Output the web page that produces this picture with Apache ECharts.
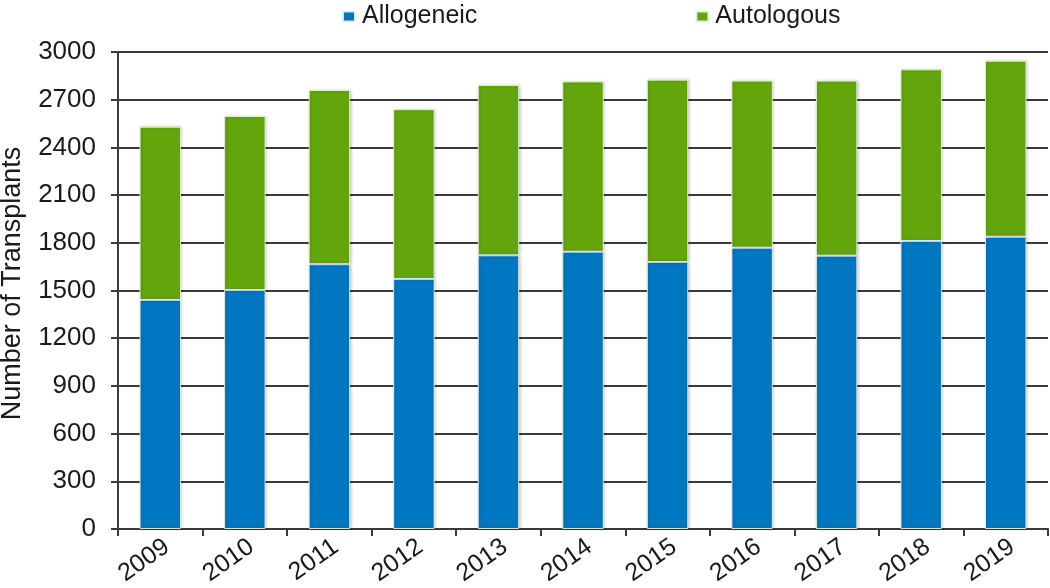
<!DOCTYPE html>
<html>
<head>
<meta charset="utf-8">
<script src="https://cdn.jsdelivr.net/npm/echarts@6/dist/echarts.min.js"></script>
<style>
html,body{margin:0;padding:0;background:#fff;}
#chart{width:1050px;height:588px;}
</style>
</head>
<body>
<div id="chart"></div>
<script>
const years = ['2009','2010','2011','2012','2013','2014','2015','2016','2017','2018','2019'];
const allogeneic = [1440, 1503, 1665, 1572, 1721, 1744, 1679, 1769, 1719, 1811, 1838];
const autologous = [1090, 1094, 1096, 1068, 1071, 1071, 1147, 1051, 1101, 1080, 1107];
const yTicks = [0, 300, 600, 900, 1200, 1500, 1800, 2100, 2400, 2700, 3000];

const font = '"Liberation Sans", Arial, sans-serif';
const chart = echarts.init(document.getElementById('chart'), null, {renderer: 'canvas'});
const barStyle = (c) => ({
  color: c,
  borderColor: 'rgba(235,240,230,0.9)',
  borderWidth: 1,
  shadowBlur: 3,
  shadowColor: 'rgba(0,0,0,0.22)',
  shadowOffsetX: 1,
  shadowOffsetY: 0
});
chart.setOption({
  animation: false,
  textStyle: {fontFamily: font, color: '#1a1a1a'},
  legend: {
    left: 337, top: -1,
    itemWidth: 12, itemHeight: 10, itemGap: 218,
    icon: 'rect',
    textStyle: {fontFamily: font, fontSize: 25, color: '#1a1a1a', padding: [0, 0, 0, 2]},
    data: ['Allogeneic', 'Autologous']
  },
  grid: {left: 118, right: 2, top: 52, bottom: 59, containLabel: false, outerBoundsMode: 'none'},
  xAxis: {
    type: 'category',
    data: years,
    boundaryGap: true,
    axisLine: {show: true, lineStyle: {color: '#3a3a3a', width: 2}},
    axisTick: {show: true, length: 7, lineStyle: {color: '#3a3a3a', width: 2}},
    axisLabel: {rotate: 35, fontSize: 25, color: '#1a1a1a', fontFamily: font, margin: 20, interval: 0, padding: [0, -8, 0, 0]}
  },
  yAxis: {
    type: 'value',
    min: 0, max: 3000, interval: 300,
    name: 'Number of Transplants',
    nameLocation: 'middle',
    nameGap: 92,
    nameTextStyle: {fontSize: 27, color: '#1a1a1a', fontFamily: font, padding: [0, 0, 0, 14]},
    axisLine: {show: true, lineStyle: {color: '#3a3a3a', width: 2}},
    axisTick: {show: true, length: 7, lineStyle: {color: '#3a3a3a', width: 2}},
    axisLabel: {
      fontSize: 26, color: '#1a1a1a', fontFamily: font, margin: 22,
      formatter: (v) => yTicks.includes(v) ? String(v) : ''
    },
    splitLine: {show: true, lineStyle: {color: '#3a3a3a', width: 2}}
  },
  series: [
    {name: 'Allogeneic', type: 'bar', stack: 'total', data: allogeneic, barWidth: '49%', itemStyle: barStyle('#0077C0')},
    {name: 'Autologous', type: 'bar', stack: 'total', data: autologous, barWidth: '49%', itemStyle: barStyle('#63A60B')}
  ]
});
</script>
</body>
</html>
